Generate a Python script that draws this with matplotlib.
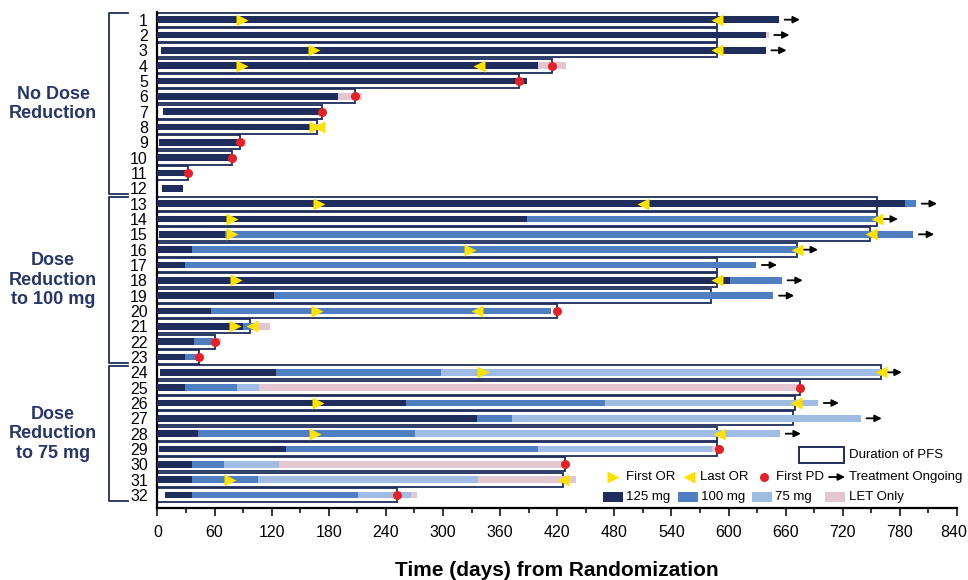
import numpy as np
import matplotlib
matplotlib.use('Agg')
import matplotlib.pyplot as plt
import matplotlib.transforms as mtransforms
from matplotlib.patches import Rectangle

plt.rcParams['font.family'] = ['Liberation Sans', 'DejaVu Sans']

# Patient rows 1..32 (days from randomization)
patients = list(range(1, 33))
start   = [0, 0, 4, 0, 0, 0, 6, 0, 2, 0, 0, 5,
           0, 0, 2, 0, 0, 0, 0, 0, 0, 0, 0,
           3, 0, 0, 0, 0, 2, 0, 0, 8]
end125  = [653, 639, 639, 400, 388, 190, 173, 163, 86, 77, 30, 27,
           785, 388, 71, 36, 29, 602, 122, 56, 90, 38, 29,
           124, 29, 261, 336, 43, 135, 36, 36, 36]
end100  = [653, 639, 639, 400, 388, 190, 173, 163, 86, 77, 30, 27,
           797, 756, 794, 672, 629, 656, 647, 413, 106, 58, 42,
           298, 84, 470, 372, 271, 400, 70, 106, 211]
end75   = [653, 639, 639, 400, 388, 190, 173, 163, 86, 77, 30, 27,
           797, 756, 794, 672, 629, 656, 647, 413, 106, 58, 42,
           760, 107, 694, 739, 654, 583, 128, 337, 266]
endlet  = [653, 642, 639, 429, 388, 215, 173, 175, 93, 77, 30, 27,
           797, 756, 794, 672, 629, 656, 647, 413, 118, 67, 42,
           760, 674, 694, 739, 654, 587, 427, 440, 273]
pfs     = [588, 588, 588, 414, 380, 208, 173, 168, 87, 78, 32, np.nan,
           756, 756, 749, 672, 588, 588, 582, 420, 97, 60, 44,
           760, 675, 670, 668, 588, 588, 428, 426, 252]
first_or = [89, np.nan, 164, 89, np.nan, np.nan, np.nan, 165, np.nan, np.nan, np.nan, np.nan,
            170, 78, 78, 328, np.nan, 83, np.nan, 168, 81, np.nan, np.nan,
            342, np.nan, 169, np.nan, 166, np.nan, np.nan, 76, np.nan]
last_or  = [588, np.nan, 588, 338, np.nan, np.nan, np.nan, 170, np.nan, np.nan, np.nan, np.nan,
            510, 756, 750, 672, np.nan, 588, np.nan, 336, 99, np.nan, np.nan,
            760, np.nan, 671, np.nan, 590, np.nan, np.nan, 426, np.nan]
first_pd = [np.nan, np.nan, np.nan, 414, 380, 208, 173, np.nan, 87, 78, 32, np.nan,
            np.nan, np.nan, np.nan, np.nan, np.nan, np.nan, np.nan, 420, np.nan, 60, 44,
            np.nan, 675, np.nan, np.nan, np.nan, 590, 428, np.nan, 252]
ongoing = [1, 1, 1, 0, 0, 0, 0, 0, 0, 0, 0, 0,
           1, 1, 1, 1, 1, 1, 1, 0, 0, 0, 0,
           1, 0, 1, 1, 1, 0, 0, 0, 0]

groups = [('No Dose\nReduction', 1, 12),
          ('Dose\nReduction\nto 100 mg', 13, 23),
          ('Dose\nReduction\nto 75 mg', 24, 32)]

c125 = '#1F2D5C'
c100 = '#4F7FC1'
c75 = '#9FBDE4'
clet = '#E3C6D0'
cyel = '#FFE100'
cred = '#E42129'
cnavy = '#1F2D5C'
ctext = '#27356B'

fig = plt.figure(figsize=(9.68, 5.8), dpi=100)
ax = fig.add_axes([0.1627, 0.1241, 0.8259, 0.8552])

y = np.array(patients)
bh = 0.42

# PFS boxes
for yi, p in zip(y, pfs):
    if not np.isnan(p):
        ax.add_patch(Rectangle((0, yi - 0.45), p, 0.9, facecolor='white',
                               edgecolor=cnavy, lw=1.3, zorder=2))

# dose segments
s = np.array(start)
e1, e2, e3, e4 = map(np.array, (end125, end100, end75, endlet))
ax.barh(y, e1 - s, left=s, height=bh, color=c125, zorder=3)
ax.barh(y, e2 - e1, left=e1, height=bh, color=c100, zorder=3)
ax.barh(y, e3 - e2, left=e2, height=bh, color=c75, zorder=3)
ax.barh(y, e4 - e3, left=e3, height=bh, color=clet, zorder=3)

# events
ax.plot(first_or, y, '>', color=cyel, ms=9, mec='none', zorder=5, ls='none')
ax.plot(last_or, y, '<', color=cyel, ms=9, mec='none', zorder=5, ls='none')
ax.plot(first_pd, y, 'o', color=cred, ms=6.5, mec='none', zorder=6, ls='none')

for yi, e, on in zip(y, e4, ongoing):
    if on:
        ax.annotate('', xy=(e + 22, yi), xytext=(e + 6, yi),
                    arrowprops=dict(arrowstyle='-|>', color='black', lw=1.3,
                                    mutation_scale=10, shrinkA=0, shrinkB=0))

ax.set_xlim(0, 840)
ax.set_ylim(32.85, 0.5)
ax.set_xticks(np.arange(0, 841, 60))
ax.set_xticks(np.arange(30, 841, 60), minor=True)
ax.set_yticks(y)
ax.set_yticklabels([str(p) for p in patients], fontsize=11.5)
ax.tick_params(axis='y', length=0, pad=7)
ax.tick_params(axis='x', which='major', length=6, width=1.1, labelsize=11.5, pad=6)
ax.tick_params(axis='x', which='minor', length=3.8, width=1.1)
# keep the last tick label inside the figure
last = ax.get_xticklabels()[-1]
last.set_transform(last.get_transform() +
                   mtransforms.ScaledTranslation(-3 / 100, 0, fig.dpi_scale_trans))
for sp in ['top', 'right']:
    ax.spines[sp].set_visible(False)
ax.spines['left'].set_linewidth(1.6)
ax.spines['bottom'].set_linewidth(1.6)
ax.set_xlabel('Time (days) from Randomization', fontsize=15, fontweight='bold', labelpad=15)

# group brackets and labels
tr = ax.get_yaxis_transform()
for label, a, b in groups:
    top, bot = a - 0.42, b + 0.36
    ax.plot([-0.0369, -0.0607, -0.0607, -0.0369], [top, top, bot, bot],
            color=cnavy, lw=1.3, transform=tr, clip_on=False)
    ax.text(-0.1307, (a + b) / 2, label, transform=tr, ha='center', va='center',
            fontsize=13, fontweight='bold', color=ctext, linespacing=1.2)

# legend
at = ax.transAxes
ax.add_patch(Rectangle((0.802, 0.091), 0.057, 0.032, facecolor='white',
                       edgecolor=cnavy, lw=1.4, transform=at, zorder=6))
ax.text(0.865, 0.107, 'Duration of PFS', transform=at, fontsize=9.5, va='center')

ly = 0.0625
ax.plot([0.570], [ly], '>', color=cyel, ms=9, mec='none', transform=at, zorder=6)
ax.text(0.5856, ly, 'First OR', transform=at, fontsize=9.5, va='center')
ax.plot([0.665], [ly], '<', color=cyel, ms=9, mec='none', transform=at, zorder=6)
ax.text(0.6786, ly, 'Last OR', transform=at, fontsize=9.5, va='center')
ax.plot([0.7586], [ly], 'o', color=cred, ms=6.5, mec='none', transform=at, zorder=6)
ax.text(0.7732, ly, 'First PD', transform=at, fontsize=9.5, va='center')
ax.annotate('', xy=(0.860, ly), xytext=(0.840, ly), xycoords=at,
            arrowprops=dict(arrowstyle='-|>', color='black', lw=1.3,
                            mutation_scale=10, shrinkA=0, shrinkB=0))
ax.text(0.865, ly, 'Treatment Ongoing', transform=at, fontsize=9.5, va='center')

py = 0.0222
for x0, col, lab in [(0.5568, c125, '125 mg'), (0.6507, c100, '100 mg'),
                     (0.7432, c75, '75 mg'), (0.8349, clet, 'LET Only')]:
    ax.add_patch(Rectangle((x0, py - 0.0101), 0.025, 0.0202, facecolor=col,
                           edgecolor='none', transform=at, zorder=6))
    ax.text(x0 + 0.0295, py, lab, transform=at, fontsize=9.5, va='center')

fig.savefig('out.png', dpi=100)
